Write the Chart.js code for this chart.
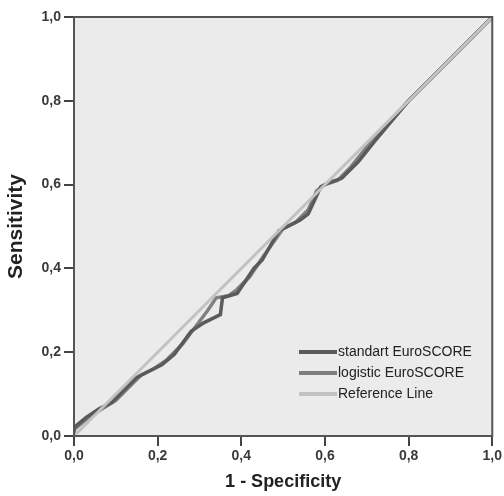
<!DOCTYPE html>
<html>
<head>
<meta charset="utf-8">
<script src="https://cdn.jsdelivr.net/npm/chart.js@4"></script>
<style>
  html, body { margin: 0; padding: 0; background: #fff; }
  #wrap { width: 504px; height: 496px; }
</style>
</head>
<body>
<div id="wrap"><canvas id="rocChart"></canvas></div>
<script>
// ROC curve values
const stdX = [0, 0, 0.03, 0.06, 0.09, 0.12, 0.15, 0.18, 0.21, 0.24, 0.28, 0.31, 0.35, 0.355, 0.39, 0.41, 0.43, 0.45, 0.49, 0.54, 0.56, 0.59, 0.61, 0.64, 0.68, 0.72, 0.8, 0.9, 1];
const stdY = [0, 0.02, 0.045, 0.065, 0.08, 0.11, 0.14, 0.155, 0.17, 0.195, 0.25, 0.27, 0.29, 0.33, 0.34, 0.37, 0.40, 0.42, 0.49, 0.515, 0.53, 0.595, 0.605, 0.615, 0.655, 0.705, 0.8, 0.9, 1];
const logX = [0, 0, 0.03, 0.06, 0.1, 0.13, 0.16, 0.19, 0.22, 0.26, 0.29, 0.32, 0.34, 0.37, 0.39, 0.42, 0.45, 0.5, 0.53, 0.56, 0.58, 0.6, 0.63, 0.66, 0.7, 0.73, 0.8, 0.9, 1];
const logY = [0, 0.015, 0.04, 0.06, 0.085, 0.115, 0.145, 0.16, 0.18, 0.22, 0.26, 0.30, 0.33, 0.335, 0.35, 0.38, 0.425, 0.495, 0.51, 0.54, 0.585, 0.60, 0.61, 0.64, 0.69, 0.725, 0.8, 0.9, 1];
const refX = [0, 1];
const refY = [0, 1];
const xTicks = [0, 0.2, 0.4, 0.6, 0.8, 1.0];
const legendLabels = ["standart EuroSCORE", "logistic EuroSCORE", "Reference Line"];

function toPoints(xs, ys) {
  return xs.map(function(x, i) { return { x: x, y: ys[i] }; });
}

function fmt(v) {
  return v.toFixed(1).replace(".", ",");
}

// grey plot box with a frame all round
const plotBox = {
  id: "plotBox",
  beforeDraw: function(chart) {
    const a = chart.chartArea;
    const ctx = chart.ctx;
    ctx.save();
    ctx.fillStyle = "#ebebeb";
    ctx.fillRect(a.left, a.top, a.right - a.left, a.bottom - a.top);
    ctx.restore();
  },
  afterDraw: function(chart) {
    const a = chart.chartArea;
    const ctx = chart.ctx;
    ctx.save();
    ctx.strokeStyle = "#555";
    ctx.lineWidth = 2;
    ctx.strokeRect(a.left, a.top, a.right - a.left, a.bottom - a.top);

    // legend inside the plot, bottom right
    const colors = ["#5a5a5a", "#7e7e7e", "#c2c2c2"];
    ctx.font = "14px 'Liberation Sans', Arial, sans-serif";
    ctx.textBaseline = "middle";
    ctx.fillStyle = "#222";
    legendLabels.forEach(function(label, i) {
      const y = a.bottom - 84 + i * 21;
      ctx.strokeStyle = colors[i];
      ctx.lineWidth = 4;
      ctx.beginPath();
      ctx.moveTo(a.left + 225, y);
      ctx.lineTo(a.left + 263, y);
      ctx.stroke();
      ctx.fillText(label, a.left + 264, y);
    });
    ctx.restore();
  }
};

const tickFont = { family: "'Liberation Sans', Arial, sans-serif", size: 14, weight: "bold" };
const titleFont = { family: "'Liberation Sans', Arial, sans-serif", size: 18, weight: "bold" };

new Chart(document.getElementById("rocChart"), {
  type: "line",
  data: {
    datasets: [
      {
        label: legendLabels[2],
        data: toPoints(refX, refY),
        borderColor: "#c2c2c2",
        borderWidth: 3
      },
      {
        label: legendLabels[0],
        data: toPoints(stdX, stdY),
        borderColor: "#5a5a5a",
        borderWidth: 3.5
      },
      {
        label: legendLabels[1],
        data: toPoints(logX, logY),
        borderColor: "#808080",
        borderWidth: 3.5
      }
    ]
  },
  options: {
    responsive: true,
    maintainAspectRatio: false,
    animation: false,
    layout: { padding: { top: 17, right: 10, left: 0, bottom: 0 } },
    elements: {
      point: { radius: 0 },
      line: { tension: 0, fill: false }
    },
    plugins: {
      legend: { display: false },
      tooltip: { enabled: false }
    },
    scales: {
      x: {
        type: "linear",
        min: 0,
        max: 1,
        afterBuildTicks: function(scale) {
          scale.ticks = xTicks.map(function(v) { return { value: v }; });
        },
        afterFit: function(scale) { scale.height = 60; },
        ticks: {
          color: "#3a3a3a",
          font: tickFont,
          padding: 2,
          maxRotation: 0,
          callback: function(v) { return fmt(v); }
        },
        grid: {
          drawOnChartArea: false,
          drawTicks: true,
          tickLength: 10,
          color: "#444",
          lineWidth: 2
        },
        border: { display: true, color: "#555", width: 2 },
        title: {
          display: true,
          text: "1 - Specificity",
          color: "#222",
          font: titleFont,
          padding: { top: 0, bottom: 3 }
        }
      },
      y: {
        type: "linear",
        min: 0,
        max: 1,
        afterBuildTicks: function(scale) {
          scale.ticks = xTicks.map(function(v) { return { value: v }; });
        },
        afterFit: function(scale) { scale.width = 74; },
        ticks: {
          color: "#3a3a3a",
          font: tickFont,
          padding: 3,
          callback: function(v) { return fmt(v); }
        },
        grid: {
          drawOnChartArea: false,
          drawTicks: true,
          tickLength: 10,
          color: "#444",
          lineWidth: 2
        },
        border: { display: true, color: "#555", width: 2 },
        title: {
          display: true,
          text: "Sensitivity",
          color: "#222",
          font: { family: "'Liberation Sans', Arial, sans-serif", size: 21, weight: "bold" },
          padding: { top: 4, bottom: 0 }
        }
      }
    }
  },
  plugins: [plotBox]
});
</script>
</body>
</html>
